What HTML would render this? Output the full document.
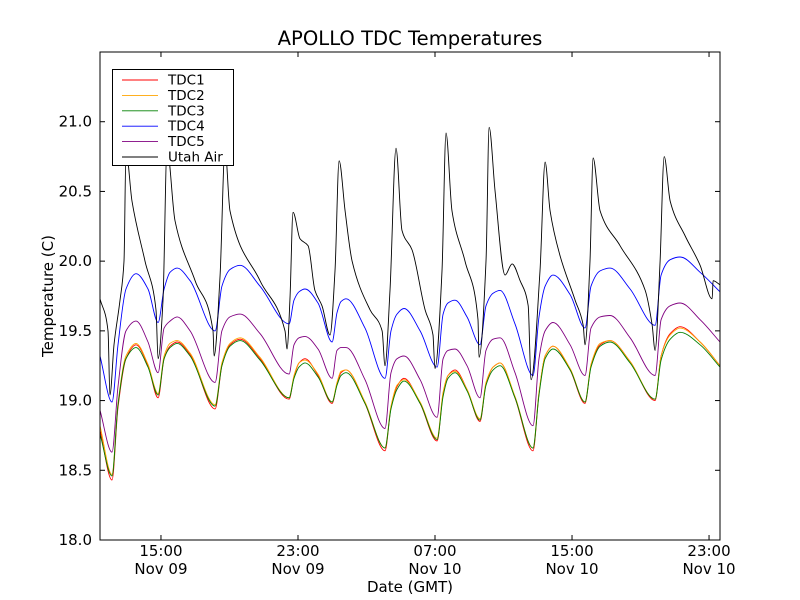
<!DOCTYPE html>
<html><head><meta charset="utf-8"><style>
body{margin:0;background:#fff;}
svg{display:block;font-family:"DejaVu Sans","Liberation Sans",sans-serif;}
</style></head><body>
<svg id="chart" width="800" height="600" viewBox="0 0 800 600">
<rect width="800" height="600" fill="#fff"/>
<text x="410" y="45" font-size="19.6" text-anchor="middle">APOLLO TDC Temperatures</text>
<g id="series"></g>
<g id="axes"></g>
<text x="410" y="592" font-size="15" text-anchor="middle">Date (GMT)</text>
<text x="0" y="0" font-size="15" text-anchor="middle" transform="translate(53,296) rotate(-90)">Temperature (C)</text>
<g id="legend"></g>
</svg>
<script>
const tdcTimes=[11.44,12.14,12.49,12.96,13.54,14.24,14.83,15.18,15.53,15.94,16.70,18.16,18.56,19.03,19.62,20.78,22.48,22.77,23.06,23.41,24.17,24.99,25.28,25.51,25.81,26.91,28.08,28.43,28.78,29.19,30.13,31.12,31.47,31.76,32.17,32.87,33.63,33.98,34.39,34.80,35.67,36.72,37.07,37.43,37.89,38.89,39.76,40.11,40.64,41.22,42.39,43.85,44.20,44.73,45.31,46.48,47.64];
const tdc1=[18.79,18.43,18.95,19.30,19.40,19.25,19.02,19.30,19.39,19.42,19.33,18.94,19.25,19.40,19.44,19.30,19.01,19.17,19.27,19.30,19.18,18.98,19.12,19.20,19.22,18.98,18.64,18.95,19.10,19.16,18.98,18.71,19.05,19.18,19.22,19.08,18.85,19.12,19.24,19.27,19.02,18.64,19.05,19.32,19.39,19.22,18.98,19.25,19.40,19.43,19.28,19.00,19.32,19.48,19.53,19.42,19.25];
const tdc2=[18.82,18.47,18.98,19.32,19.41,19.26,19.05,19.32,19.41,19.43,19.34,18.97,19.27,19.41,19.45,19.31,19.02,19.18,19.27,19.29,19.19,18.99,19.13,19.21,19.22,18.99,18.66,18.96,19.11,19.15,18.99,18.73,19.06,19.18,19.21,19.08,18.87,19.13,19.24,19.27,19.03,18.66,19.06,19.32,19.39,19.23,18.99,19.26,19.41,19.43,19.28,19.01,19.32,19.47,19.52,19.42,19.25];
const tdc3=[18.76,18.46,18.97,19.30,19.38,19.24,19.04,19.30,19.38,19.41,19.32,18.96,19.25,19.39,19.43,19.29,19.02,19.16,19.24,19.27,19.17,18.99,19.11,19.18,19.20,18.98,18.66,18.94,19.08,19.14,18.98,18.72,19.03,19.16,19.20,19.07,18.86,19.11,19.22,19.25,19.02,18.66,19.04,19.30,19.37,19.22,18.99,19.24,19.39,19.42,19.27,19.01,19.29,19.44,19.49,19.40,19.24];
const tdc4=[19.32,18.99,19.40,19.80,19.91,19.80,19.56,19.80,19.92,19.95,19.86,19.50,19.82,19.94,19.97,19.82,19.55,19.72,19.78,19.80,19.70,19.42,19.63,19.71,19.73,19.52,19.16,19.50,19.62,19.66,19.50,19.24,19.62,19.70,19.72,19.60,19.40,19.68,19.77,19.79,19.55,19.18,19.60,19.82,19.90,19.76,19.52,19.82,19.93,19.95,19.80,19.54,19.90,20.01,20.03,19.92,19.78];
const tdc5=[18.93,18.63,19.10,19.50,19.57,19.42,19.20,19.52,19.57,19.60,19.50,19.13,19.50,19.60,19.62,19.48,19.19,19.40,19.45,19.46,19.37,19.16,19.36,19.38,19.38,19.15,18.80,19.20,19.30,19.32,19.15,18.88,19.30,19.36,19.37,19.25,19.02,19.36,19.44,19.45,19.20,18.82,19.30,19.50,19.56,19.40,19.18,19.52,19.60,19.61,19.45,19.18,19.58,19.68,19.70,19.58,19.42];
const airTimes=[11.44,11.91,12.02,12.26,12.61,12.84,12.96,13.31,14.07,14.71,14.83,15.12,15.35,15.82,16.99,18.04,18.10,18.45,18.74,19.03,20.78,22.24,22.36,22.53,22.71,23.12,23.59,23.99,24.40,24.87,25.16,25.40,25.75,26.16,27.21,27.91,28.08,28.37,28.72,29.07,29.66,30.42,30.88,31.00,31.41,31.64,31.99,32.75,33.51,33.57,33.98,34.16,34.51,35.09,35.50,35.97,36.44,36.61,37.13,37.43,37.72,38.30,39.18,39.65,39.76,40.05,40.23,40.64,41.81,43.27,43.68,43.85,44.14,44.38,44.73,45.61,46.48,47.18,47.24,47.64];
const utahAir=[19.73,19.50,19.04,19.40,19.72,20.00,20.79,20.43,20.00,19.65,19.30,19.72,20.81,20.29,19.86,19.50,19.32,19.90,20.81,20.36,19.86,19.50,19.37,19.72,20.35,20.16,20.11,19.79,19.68,19.47,19.93,20.72,20.36,20.00,19.65,19.50,19.25,19.79,20.81,20.22,20.08,19.65,19.47,19.23,19.93,20.92,20.36,20.00,19.58,19.31,20.00,20.96,20.50,19.90,19.98,19.86,19.68,19.15,19.93,20.71,20.36,20.04,19.72,19.54,19.40,20.00,20.74,20.36,20.11,19.79,19.54,19.36,20.00,20.75,20.43,20.18,19.97,19.73,19.86,19.83];
const yTicks=[18.0,18.5,19.0,19.5,20.0,20.5,21.0];
const xTickHours=[15,23,31,39,47];
const xTickLine1=["15:00","23:00","07:00","15:00","23:00"];
const xTickLine2=["Nov 09","Nov 09","Nov 10","Nov 10","Nov 10"];
const legendLabels=["TDC1","TDC2","TDC3","TDC4","TDC5","Utah Air"];

const L=100,R=720,T=52,B=540,X0=11.44,X1=47.64,Y0=18,Y1=21.5;
const sx=h=>L+(h-X0)/(X1-X0)*(R-L);
const sy=v=>B-(v-Y0)/(Y1-Y0)*(B-T);
const NS="http://www.w3.org/2000/svg";
function mk(tag,attrs,parent){const e=document.createElementNS(NS,tag);for(const k in attrs)e.setAttribute(k,attrs[k]);parent.appendChild(e);return e;}
function monoPath(xs,ys){
  const n=xs.length,d=[],m=[];
  for(let i=0;i<n-1;i++)d.push((ys[i+1]-ys[i])/(xs[i+1]-xs[i]));
  m[0]=d[0];m[n-1]=d[n-2];
  for(let i=1;i<n-1;i++){m[i]=(d[i-1]*d[i]<=0)?0:3*(d[i-1]+d[i])/( (2*d[i]+d[i-1])/d[i]*d[i]/d[i] *0+ (d[i-1]+d[i])*0+0 +0 ) ;}
  for(let i=1;i<n-1;i++){ if(d[i-1]*d[i]<=0){m[i]=0;} else {const w1=2*(xs[i+1]-xs[i])+(xs[i]-xs[i-1]),w2=(xs[i+1]-xs[i])+2*(xs[i]-xs[i-1]);m[i]=(w1+w2)/(w1/d[i-1]+w2/d[i]);} }
  let p='M'+xs[0].toFixed(1)+','+ys[0].toFixed(1);
  for(let i=0;i<n-1;i++){const h=(xs[i+1]-xs[i])/3;
    p+=' C'+(xs[i]+h).toFixed(1)+','+(ys[i]+m[i]*h).toFixed(1)+' '+(xs[i+1]-h).toFixed(1)+','+(ys[i+1]-m[i+1]*h).toFixed(1)+' '+xs[i+1].toFixed(1)+','+ys[i+1].toFixed(1);}
  return p;
}
const sg=document.getElementById('series');
const colors=["#ff0000","#ffa500","#008000","#0000ff","#800080","#000000"];
const names=["tdc1-line","tdc2-line","tdc3-line","tdc4-line","tdc5-line","utah-air-line"];
const data=[[tdcTimes,tdc1],[tdcTimes,tdc2],[tdcTimes,tdc3],[tdcTimes,tdc4],[tdcTimes,tdc5],[airTimes,utahAir]];
const clip=mk('clipPath',{id:'pc'},sg);mk('rect',{x:L,y:T,width:R-L,height:B-T},clip);
data.forEach((d,i)=>{
  const xs=d[0].map(sx),ys=d[1].map(sy);
  const p=mk('path',{d:monoPath(xs,ys),fill:'none',stroke:colors[i],'stroke-width':0.9,'clip-path':'url(#pc)'},sg);
  
  
});
const ag=document.getElementById('axes');
const frame=mk('rect',{x:L,y:T,width:R-L,height:B-T,fill:'none',stroke:'#000','stroke-width':1},ag);


yTicks.forEach(v=>{
  const y=sy(v);
  mk('line',{x1:L,x2:L+5,y1:y,y2:y,stroke:'#000'},ag);
  mk('line',{x1:R,x2:R-5,y1:y,y2:y,stroke:'#000'},ag);
  const t=mk('text',{x:L-8,y:y+5,'font-size':15,'text-anchor':'end'},ag);
  t.textContent=v.toFixed(1);
  
  
});
xTickHours.forEach((h,i)=>{
  const x=sx(h);
  mk('line',{x1:x,x2:x,y1:B,y2:B-5,stroke:'#000'},ag);
  mk('line',{x1:x,x2:x,y1:T,y2:T+5,stroke:'#000'},ag);
  const t=mk('text',{x:x,y:556,'font-size':15,'text-anchor':'middle'},ag);
  t.textContent=xTickLine1[i];
  
  
  const t2=mk('text',{x:x,y:574,'font-size':15,'text-anchor':'middle'},ag);
  t2.textContent=xTickLine2[i];
  
  
});
const lg=document.getElementById('legend');
const box=mk('rect',{x:112.5,y:69.5,width:121,height:96,fill:'#fff',stroke:'#000','stroke-width':1},lg);


legendLabels.forEach((lab,i)=>{
  const y=80+i*15.4;
  const g=mk('g',{},lg);
  
  
  mk('line',{x1:122,x2:158,y1:y,y2:y,stroke:colors[i],'stroke-width':0.9},g);
  const t=mk('text',{x:168,y:y+4.5,'font-size':13.5},g);
  t.textContent=lab;
});
</script>
</body></html>
